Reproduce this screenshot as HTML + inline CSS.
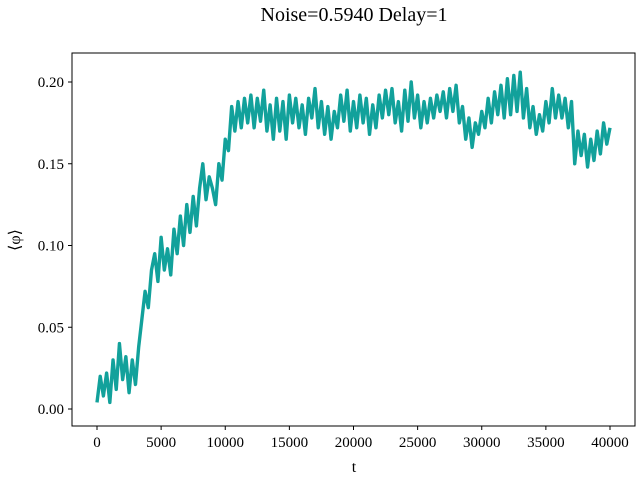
<!DOCTYPE html>
<html><head><meta charset="utf-8"><style>
body{margin:0;background:#fff}
text{font-family:"Liberation Serif","DejaVu Serif",serif;fill:#000}
</style></head><body>
<svg id="chart" width="640" height="480" xmlns="http://www.w3.org/2000/svg">
<text x="354" y="21" font-size="20" text-anchor="middle">Noise=0.5940 Delay=1</text>
<rect x="72" y="53" width="563" height="373" fill="none" stroke="#000" stroke-width="1"/>
<g id="xticks"></g>
<g id="yticks"></g>
<text x="354" y="472" font-size="16" text-anchor="middle">t</text>
<text transform="translate(20,240) rotate(-90)" font-size="16" text-anchor="middle">⟨φ⟩</text>
<path id="series" fill="none" stroke="#12a19b" stroke-width="3.4" stroke-linejoin="round"/>
</svg>
<script>
const xTicks=[0,5000,10000,15000,20000,25000,30000,35000,40000];
const yTicks=[0.00,0.05,0.10,0.15,0.20];
const tStep=250;
const phiValues=[0.004,0.020,0.008,0.022,0.004,0.030,0.012,0.040,0.018,
0.032,0.010,0.030,0.015,0.038,0.055,0.072,0.062,
0.085,0.095,0.078,0.105,0.085,0.098,0.082,0.110,
0.095,0.118,0.100,0.125,0.108,0.130,0.112,0.135,
0.150,0.128,0.142,0.135,0.125,0.150,0.140,0.165,
0.158,0.185,0.170,0.188,0.172,0.190,0.175,0.192,
0.172,0.190,0.176,0.195,0.170,0.186,0.165,0.190,
0.170,0.188,0.165,0.192,0.175,0.190,0.172,0.186,
0.168,0.190,0.178,0.196,0.172,0.188,0.168,0.185,
0.165,0.182,0.172,0.192,0.176,0.195,0.170,0.188,
0.172,0.192,0.175,0.190,0.168,0.186,0.172,0.192,
0.178,0.195,0.180,0.196,0.175,0.188,0.170,0.195,
0.176,0.200,0.178,0.192,0.172,0.188,0.175,0.190,
0.178,0.192,0.182,0.194,0.178,0.196,0.182,0.198,
0.175,0.185,0.165,0.178,0.160,0.175,0.168,0.182,
0.172,0.190,0.175,0.194,0.180,0.198,0.178,0.202,
0.180,0.204,0.182,0.206,0.178,0.196,0.172,0.185,
0.168,0.180,0.170,0.188,0.175,0.196,0.178,0.192,
0.178,0.190,0.172,0.188,0.150,0.170,0.155,0.168,
0.148,0.165,0.152,0.170,0.156,0.175,0.162,0.172];
const NS="http://www.w3.org/2000/svg";
function xs(t){return 97+t*(610-97)/40000;}
function ys(v){return 409-v*(409-82)/0.2;}
const xg=document.getElementById('xticks'),yg=document.getElementById('yticks');
xTicks.forEach(t=>{
 const l=document.createElementNS(NS,'line');
 
 
 l.setAttribute('x1',xs(t));l.setAttribute('x2',xs(t));l.setAttribute('y1',426);l.setAttribute('y2',430);l.setAttribute('stroke','#000');
 xg.appendChild(l);
 const tx=document.createElementNS(NS,'text');
 
 
 tx.setAttribute('x',xs(t));tx.setAttribute('y',447);tx.setAttribute('font-size','15');tx.setAttribute('text-anchor','middle');
 tx.textContent=t;xg.appendChild(tx);
});
yTicks.forEach(v=>{
 const l=document.createElementNS(NS,'line');
 
 
 l.setAttribute('x1',68);l.setAttribute('x2',72);l.setAttribute('y1',ys(v));l.setAttribute('y2',ys(v));l.setAttribute('stroke','#000');
 yg.appendChild(l);
 const tx=document.createElementNS(NS,'text');
 
 
 tx.setAttribute('x',64);tx.setAttribute('y',ys(v)+5);tx.setAttribute('font-size','15');tx.setAttribute('text-anchor','end');
 tx.textContent=v.toFixed(2);yg.appendChild(tx);
});
document.getElementById('series').setAttribute('d',phiValues.map((v,i)=>(i?'L':'M')+xs(i*tStep).toFixed(2)+','+ys(v).toFixed(2)).join(''));
</script>
</body></html>
